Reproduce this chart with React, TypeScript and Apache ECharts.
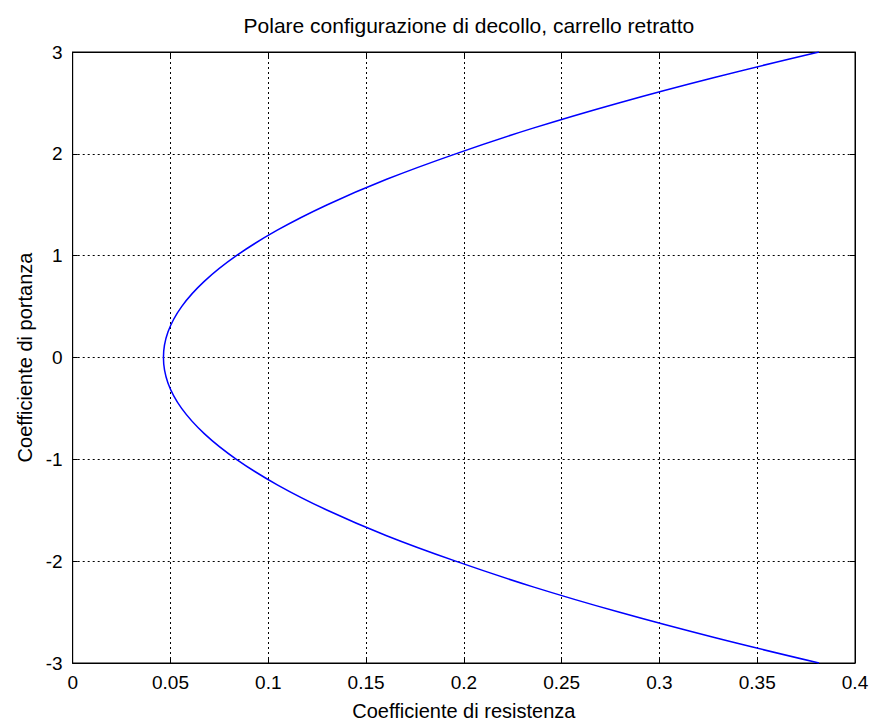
import React, { useEffect, useRef } from "react";
import * as echarts from "echarts";

const TITLE = "Polare configurazione di decollo, carrello retratto";
const X_NAME = "Coefficiente di resistenza";
const Y_NAME = "Coefficiente di portanza";

// Lift coefficient (CL) and drag coefficient (CD)
const CL = [
  -3, -2.75, -2.5, -2.25, -2, -1.75, -1.5, -1.25, -1, -0.75, -0.5, -0.25, 0,
  0.25, 0.5, 0.75, 1, 1.25, 1.5, 1.75, 2, 2.25, 2.5, 2.75, 3,
];
const CD = [
  0.3816, 0.3281, 0.2792, 0.235, 0.1958, 0.1605, 0.1302, 0.1046, 0.0837,
  0.0674, 0.0557, 0.0487, 0.0464, 0.0487, 0.0557, 0.0674, 0.0837, 0.1046,
  0.1302, 0.1605, 0.1958, 0.235, 0.2792, 0.3281, 0.3816,
];

const X_MIN = 0;
const X_MAX = 0.4;
const X_STEP = 0.05;
const Y_MIN = -3;
const Y_MAX = 3;
const Y_STEP = 1;

export default function App() {
  const ref = useRef<HTMLDivElement>(null);

  useEffect(() => {
    if (!ref.current) return;
    const chart = echarts.init(ref.current, undefined, { renderer: "svg" });
    const font = "Liberation Sans, Arial, Helvetica, sans-serif";
    const grid = { left: 72.7, right: 17, top: 52, bottom: 58.3 };
    const plotCenterX = grid.left + (872 - grid.left - grid.right) / 2;
    const dotted = { color: "#000", width: 1, type: [2, 3] as any };
    const frameLine = { show: true, onZero: false, lineStyle: { color: "#000", width: 1 } };
    const tick = { show: true, inside: true, length: 5, lineStyle: { color: "#000" } };

    chart.setOption({
      animation: false,
      backgroundColor: "#fff",
      title: {
        text: TITLE,
        left: plotCenterX,
        top: 10,
        textAlign: "center",
        textStyle: {
          fontFamily: font,
          fontSize: 21,
          fontWeight: "normal",
          color: "#000",
        },
      },
      grid: {
        ...grid,
        show: true,
        borderColor: "#000",
        borderWidth: 1,
        backgroundColor: "#fff",
      },
      xAxis: [
        {
          type: "value",
          min: X_MIN,
          max: X_MAX,
          interval: X_STEP,
          position: "bottom",
          name: X_NAME,
          nameLocation: "middle",
          nameGap: 38,
          nameTextStyle: { fontFamily: font, fontSize: 20, color: "#000" },
          axisLine: frameLine,
          axisTick: tick,
          axisLabel: {
            fontFamily: font,
            fontSize: 19,
            color: "#000",
            margin: 10,
            formatter: (v: number) => String(parseFloat(v.toFixed(2))),
          },
          splitLine: { show: true, lineStyle: dotted },
        },
        {
          type: "value",
          min: X_MIN,
          max: X_MAX,
          interval: X_STEP,
          position: "top",
          axisLine: frameLine,
          axisTick: tick,
          axisLabel: { show: false },
          splitLine: { show: false },
        },
      ],
      yAxis: [
        {
          type: "value",
          min: Y_MIN,
          max: Y_MAX,
          interval: Y_STEP,
          position: "left",
          name: Y_NAME,
          nameLocation: "middle",
          nameGap: 38,
          nameTextStyle: { fontFamily: font, fontSize: 20, color: "#000" },
          axisLine: frameLine,
          axisTick: tick,
          axisLabel: { fontFamily: font, fontSize: 19, color: "#000", margin: 10 },
          splitLine: { show: true, lineStyle: dotted },
        },
        {
          type: "value",
          min: Y_MIN,
          max: Y_MAX,
          interval: Y_STEP,
          position: "right",
          axisLine: frameLine,
          axisTick: tick,
          axisLabel: { show: false },
          splitLine: { show: false },
        },
      ],
      series: [
        {
          type: "line",
          data: CD.map((cd, i) => [cd, CL[i]]),
          xAxisIndex: 0,
          yAxisIndex: 0,
          showSymbol: false,
          smooth: 0.4,
          lineStyle: { color: "#0000ff", width: 1.5 },
          z: 5,
        },
      ],
    });

    return () => chart.dispose();
  }, []);

  return (
    <div
      ref={ref}
      style={{ position: "fixed", left: 0, top: 0, width: 872, height: 726 }}
    />
  );
}
